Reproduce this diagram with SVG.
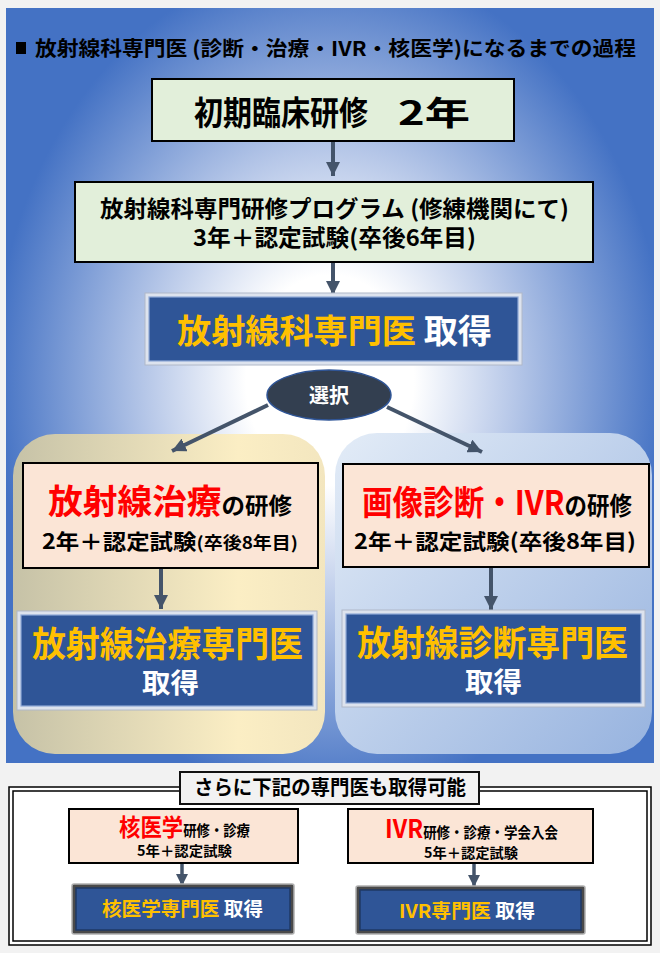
<svg xmlns="http://www.w3.org/2000/svg" width="660" height="953" viewBox="0 0 660 953">
<defs>
<radialGradient id="bg" gradientUnits="userSpaceOnUse" cx="330" cy="380" r="420" gradientTransform="translate(330 380) scale(0.8 1) translate(-330 -380)">
<stop offset="0" stop-color="#ffffff"/>
<stop offset="0.25" stop-color="#ffffff"/>
<stop offset="0.55" stop-color="#b6c7e8"/>
<stop offset="1" stop-color="#4472c4"/>
</radialGradient>
<linearGradient id="lp" x1="0" y1="0" x2="1" y2="0">
<stop offset="0" stop-color="#c6c2a7"/>
<stop offset="0.72" stop-color="#fbeec4"/>
<stop offset="1" stop-color="#f3e6bf"/>
</linearGradient>
<linearGradient id="rp" x1="0" y1="0" x2="1" y2="1">
<stop offset="0" stop-color="#e3ecf7"/>
<stop offset="1" stop-color="#97b3df"/>
</linearGradient>
<marker id="ah" markerUnits="userSpaceOnUse" markerWidth="16" markerHeight="14" refX="14" refY="7" orient="auto">
<path d="M0,0 L14,7 L0,14 Z" fill="#44546a"/>
</marker>
<marker id="ahs" markerUnits="userSpaceOnUse" markerWidth="14" markerHeight="12" refX="12" refY="6" orient="auto">
<path d="M0,0 L12,6 L0,12 Z" fill="#44546a"/>
</marker>
</defs>
<style>
text{font-family:"Noto Sans CJK JP","Noto Sans",sans-serif;font-weight:bold;}
.k{fill:#000000;}
.r{fill:#ff0000;}
.o{fill:#ffc000;}
.w{fill:#ffffff;}
.green{fill:#e2efda;stroke:#000000;stroke-width:2;}
.peach{fill:#fbe5d6;stroke:#000000;stroke-width:2;}
.frame{fill:#dde3ee;stroke:#b0b8c8;stroke-width:1;}
.blue{fill:#2f5597;stroke:#8fa9d8;stroke-width:1.2;}
.bframe{fill:#4a4a4a;stroke:#b0b0b0;stroke-width:1.5;}
.bblue{fill:#2f5597;stroke:#1f3864;stroke-width:1.5;}
.arr{stroke:#44546a;stroke-width:4;fill:none;marker-end:url(#ah);}
.arrs{stroke:#44546a;stroke-width:3.5;fill:none;marker-end:url(#ahs);}
</style>
<rect x="0" y="0" width="660" height="953" fill="#f2f2f2"/>
<rect x="6" y="8" width="648" height="755" fill="url(#bg)"/>
<g id="title">
<rect x="16" y="42" width="10" height="12" fill="#000"/>
<text class="k" x="35" y="56" font-size="20" textLength="601" lengthAdjust="spacingAndGlyphs">放射線科専門医 (診断・治療・IVR・核医学)になるまでの過程</text>
</g>
<g id="panel-left"><rect x="13" y="434" width="312" height="320" rx="42" fill="url(#lp)"/></g>
<g id="panel-right"><rect x="335" y="433" width="317" height="321" rx="42" fill="url(#rp)"/></g>
<g id="n-sarani">
<rect x="9" y="787" width="642" height="158" fill="#ffffff" stroke="#000" stroke-width="1.5"/>
<rect x="13" y="791" width="634" height="150" fill="#ffffff" stroke="#000" stroke-width="1.5"/>
<rect x="180" y="772" width="299" height="32" fill="#f2f2f2" stroke="#111" stroke-width="2"/>
<text class="k" x="194" y="795" font-size="20" textLength="272" lengthAdjust="spacingAndGlyphs">さらに下記の専門医も取得可能</text>
</g>
<g id="connectors">
<line class="arr" x1="333" y1="142" x2="333" y2="176"/>
<line class="arr" x1="333" y1="263" x2="333" y2="295"/>
<line class="arr" x1="268" y1="405" x2="172" y2="451"/>
<line class="arr" x1="387" y1="407" x2="482" y2="452"/>
<line class="arr" x1="161" y1="568" x2="161" y2="609"/>
<line class="arr" x1="491" y1="568" x2="491" y2="610"/>
<line class="arrs" x1="182" y1="863" x2="182" y2="886"/>
<line class="arrs" x1="474" y1="863" x2="474" y2="887"/>
</g>
<g id="n-shoki">
<rect class="green" x="152" y="79" width="362" height="62"/>
<text class="k" x="194" y="125" font-size="33" textLength="174" lengthAdjust="spacingAndGlyphs">初期臨床研修</text>
<text class="k" x="398" y="125" font-size="33" textLength="72" lengthAdjust="spacingAndGlyphs">2年</text>
</g>
<g id="n-program">
<rect class="green" x="75" y="182" width="518" height="80"/>
<text class="k" x="100" y="217" font-size="23" textLength="469" lengthAdjust="spacingAndGlyphs">放射線科専門研修プログラム (修練機関にて)</text>
<text class="k" x="193" y="246" font-size="23" textLength="283" lengthAdjust="spacingAndGlyphs">3年＋認定試験(卒後6年目)</text>
</g>
<g id="n-senmon">
<rect class="frame" x="145" y="293" width="377" height="72"/>
<rect class="blue" x="149" y="297" width="369" height="64"/>
<text x="177" y="343" font-size="33" textLength="315" lengthAdjust="spacingAndGlyphs"><tspan class="o">放射線科専門医</tspan><tspan class="w"> 取得</tspan></text>
</g>
<g id="n-sentaku">
<ellipse cx="329" cy="395" rx="62" ry="25" fill="#333f50" stroke="#2f5597" stroke-width="1.5"/>
<text class="w" x="309" y="403" font-size="20" textLength="40" lengthAdjust="spacingAndGlyphs">選択</text>
</g>
<g id="n-chiryo-kenshu">
<rect class="peach" x="23" y="463" width="295" height="105"/>
<text x="48" y="514" textLength="244" lengthAdjust="spacingAndGlyphs"><tspan class="r" font-size="34">放射線治療</tspan><tspan class="k" font-size="23">の研修</tspan></text>
<text x="42" y="549" textLength="256" lengthAdjust="spacingAndGlyphs"><tspan class="k" font-size="21">2年＋認定試験</tspan><tspan class="k" font-size="17">(卒後8年目)</tspan></text>
</g>
<g id="n-chiryo-senmon">
<rect class="frame" x="17" y="611" width="300" height="99"/>
<rect class="blue" x="21" y="615" width="292" height="91"/>
<text class="o" x="32" y="657" font-size="35" textLength="271" lengthAdjust="spacingAndGlyphs">放射線治療専門医</text>
<text class="w" x="142" y="693" font-size="27" textLength="57" lengthAdjust="spacingAndGlyphs">取得</text>
</g>
<g id="n-shindan-kenshu">
<rect class="peach" x="343" y="464" width="306" height="103"/>
<text x="362" y="515" textLength="270" lengthAdjust="spacingAndGlyphs"><tspan class="r" font-size="34">画像診断・IVR</tspan><tspan class="k" font-size="25">の研修</tspan></text>
<text class="k" x="354" y="549" font-size="21" textLength="282" lengthAdjust="spacingAndGlyphs">2年＋認定試験(卒後8年目)</text>
</g>
<g id="n-shindan-senmon">
<rect class="frame" x="342" y="610" width="303" height="97"/>
<rect class="blue" x="346" y="614" width="295" height="89"/>
<text class="o" x="357" y="656" font-size="35" textLength="271" lengthAdjust="spacingAndGlyphs">放射線診断専門医</text>
<text class="w" x="465" y="692" font-size="27" textLength="57" lengthAdjust="spacingAndGlyphs">取得</text>
</g>
<g id="n-kaku-kenshu">
<rect class="peach" x="69" y="809" width="229" height="54"/>
<text x="119" y="836" textLength="131" lengthAdjust="spacingAndGlyphs"><tspan class="r" font-size="24">核医学</tspan><tspan class="k" font-size="15">研修・診療</tspan></text>
<text class="k" x="137" y="856" font-size="14" textLength="95" lengthAdjust="spacingAndGlyphs">5年＋認定試験</text>
</g>
<g id="n-kaku-senmon">
<rect class="bframe" x="72" y="884" width="222" height="50" rx="2"/>
<rect class="bblue" x="76" y="888" width="214" height="42"/>
<text x="102" y="916" font-size="19" textLength="161" lengthAdjust="spacingAndGlyphs"><tspan class="o">核医学専門医</tspan><tspan class="w"> 取得</tspan></text>
</g>
<g id="n-ivr-kenshu">
<rect class="peach" x="348" y="809" width="245" height="54"/>
<text x="385" y="838" textLength="173" lengthAdjust="spacingAndGlyphs"><tspan class="r" font-size="26">IVR</tspan><tspan class="k" font-size="15">研修・診療・学会入会</tspan></text>
<text class="k" x="424" y="858" font-size="14" textLength="94" lengthAdjust="spacingAndGlyphs">5年＋認定試験</text>
</g>
<g id="n-ivr-senmon">
<rect class="bframe" x="356" y="886" width="229" height="48" rx="2"/>
<rect class="bblue" x="360" y="890" width="221" height="40"/>
<text x="399" y="918" font-size="19" textLength="136" lengthAdjust="spacingAndGlyphs"><tspan class="o">IVR専門医</tspan><tspan class="w"> 取得</tspan></text>
</g>
</svg>
